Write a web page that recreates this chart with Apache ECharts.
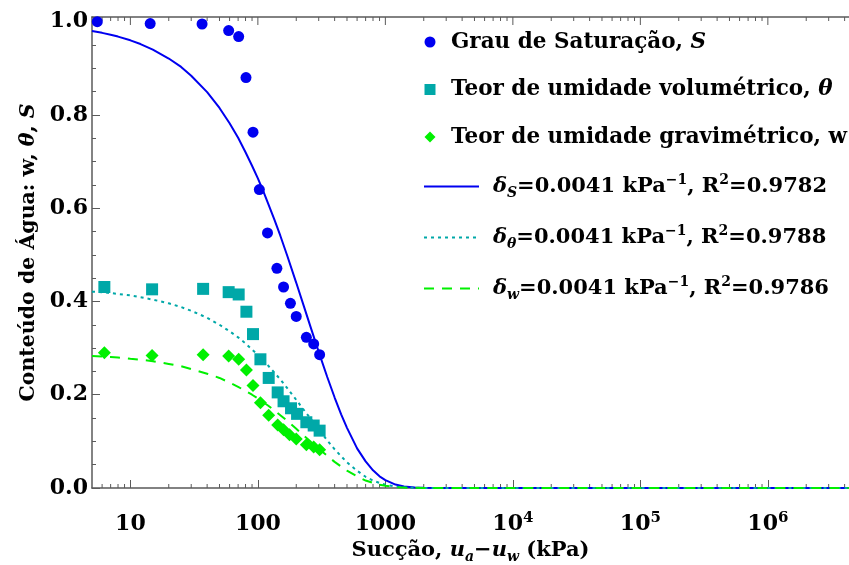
<!DOCTYPE html>
<html>
<head>
<meta charset="utf-8">
<script src="https://cdn.jsdelivr.net/npm/echarts@6/dist/echarts.min.js"></script>
<style>
  html, body { margin: 0; padding: 0; background: #fff; }
  #chart { width: 849px; height: 565px; }
</style>
</head>
<body>
<div id="chart"></div>
<script>
// Measured data: suction (kPa) and water-content indicators
const suctionS = [5.5, 14.3, 36.5, 59, 70.7, 80.7, 91.6, 102.7, 119, 141, 159, 180, 200, 240, 274, 305];
const saturationS = [1.0, 0.996, 0.995, 0.981, 0.968, 0.880, 0.763, 0.640, 0.547, 0.471, 0.431, 0.396, 0.368, 0.323, 0.309, 0.286];

const suctionTheta = [6.25, 14.8, 37.2, 59, 70.7, 81.3, 91.6, 104.7, 121.6, 143, 159, 182, 203, 240, 274, 305];
const volumetricTheta = [0.431, 0.426, 0.427, 0.420, 0.415, 0.378, 0.330, 0.276, 0.236, 0.205, 0.186, 0.171, 0.159, 0.141, 0.134, 0.123];

const suctionW = [6.25, 14.8, 37.2, 59, 70.7, 81.3, 91.6, 104.7, 121.6, 143, 159, 177, 200, 240, 274, 305];
const gravimetricW = [0.290, 0.284, 0.286, 0.283, 0.276, 0.253, 0.220, 0.183, 0.156, 0.135, 0.125, 0.114, 0.105, 0.093, 0.088, 0.082];

// Fitted curves, sampled along the suction axis
const fitSuction = [5, 6, 7, 8, 10, 12, 15, 20, 25, 30, 40, 50, 60, 70, 80, 90, 100, 110, 120, 135, 150, 170, 200, 230, 260, 300, 350, 400, 450, 500, 600, 700, 800, 900, 1000, 1200, 1400, 1700, 2000, 3000, 100000, 4330000];
const fitS = [0.980, 0.976, 0.972, 0.968, 0.960, 0.952, 0.940, 0.921, 0.903, 0.884, 0.849, 0.815, 0.782, 0.751, 0.720, 0.691, 0.664, 0.637, 0.611, 0.575, 0.541, 0.498, 0.440, 0.389, 0.344, 0.292, 0.238, 0.194, 0.158, 0.129, 0.085, 0.057, 0.038, 0.025, 0.017, 0.0073, 0.0032, 0.0009, 0.0003, 0, 0, 0];
const fitTheta = [0.421, 0.420, 0.418, 0.416, 0.413, 0.409, 0.404, 0.396, 0.388, 0.380, 0.365, 0.350, 0.336, 0.323, 0.310, 0.297, 0.286, 0.274, 0.263, 0.247, 0.233, 0.214, 0.189, 0.167, 0.148, 0.126, 0.102, 0.083, 0.068, 0.055, 0.037, 0.024, 0.016, 0.011, 0.007, 0.003, 0.0014, 0.0004, 0.0001, 0, 0, 0];
const fitW = [0.283, 0.282, 0.281, 0.280, 0.277, 0.275, 0.272, 0.266, 0.261, 0.255, 0.245, 0.236, 0.226, 0.217, 0.208, 0.200, 0.192, 0.184, 0.177, 0.166, 0.156, 0.144, 0.127, 0.112, 0.099, 0.084, 0.069, 0.056, 0.046, 0.037, 0.025, 0.016, 0.011, 0.007, 0.005, 0.002, 0.0009, 0.0003, 0.0001, 0, 0, 0];

// Axis ranges and tick values
const xMin = 5, xMax = 4330000;
const yMin = 0, yMax = 1.01, yStep = 0.2;
const minorMultipliers = [2, 3, 4, 5, 6, 7, 8, 9];
const decades = [1, 10, 100, 1000, 10000, 100000, 1000000];

const pairs = (xs, ys) => xs.map((x, i) => [x, ys[i]]);

const minorTickValues = [];
decades.forEach(d => minorMultipliers.forEach(m => {
  const v = d * m;
  if (v > xMin && v < xMax) minorTickValues.push(v);
}));
const topTickValues = decades.filter(v => v > xMin && v < xMax);

const FONT = 'DejaVu Serif';
const AXIS_COLOR = '#5a5a5a';
const BLUE = '#0000f0';
const TEAL = '#00a8a8';
const GREEN = '#00f000';

const baseText = { fontFamily: FONT, fontWeight: 'bold', color: '#000' };
function makeRich(size, spacer) {
  const small = Math.round(size * 0.68);
  return {
    t: Object.assign({}, baseText, { fontSize: size, lineHeight: size + 6 }),
    i: Object.assign({}, baseText, { fontSize: size, lineHeight: size + 6, fontStyle: 'italic' }),
    sub: Object.assign({}, baseText, { fontSize: small, lineHeight: small, fontStyle: 'italic', verticalAlign: 'bottom' }),
    sup: Object.assign({}, baseText, { fontSize: small, lineHeight: small, verticalAlign: 'top' }),
    g: { width: spacer || 0 }
  };
}

const NAME_S = 'Grau de Saturação, S';
const NAME_T = 'Teor de umidade volumétrico, θ';
const NAME_W = 'Teor de umidade gravimétrico, w';
const FIT_S = 'fitS';
const FIT_T = 'fitTheta';
const FIT_W = 'fitW';

const legendLabels = {};
legendLabels[NAME_S] = '{g| }{t|Grau de Saturação, }{i|S}';
legendLabels[NAME_T] = '{g| }{t|Teor de umidade volumétrico, }{i|θ}';
legendLabels[NAME_W] = '{g| }{t|Teor de umidade gravimétrico, w}';
legendLabels[FIT_S] = '{g| }{i|δ}{sub|S}{t|=0.0041 kPa}{sup|−1}{t|, R}{sup|2}{t|=0.9782}';
legendLabels[FIT_T] = '{g| }{i|δ}{sub|θ}{t|=0.0041 kPa}{sup|−1}{t|, R}{sup|2}{t|=0.9788}';
legendLabels[FIT_W] = '{g| }{i|δ}{sub|w}{t|=0.0041 kPa}{sup|−1}{t|, R}{sup|2}{t|=0.9786}';

const chart = echarts.init(document.getElementById('chart'), null, { renderer: 'canvas' });

const tickRich = {
  n: { fontFamily: FONT, fontWeight: 'bold', fontSize: 22, color: '#000', lineHeight: 26 },
  e: { fontFamily: FONT, fontWeight: 'bold', fontSize: 15, color: '#000', lineHeight: 15, verticalAlign: 'top' }
};

chart.setOption({
  animation: false,
  backgroundColor: '#fff',
  grid: { left: 92, right: 0, top: 17, bottom: 77, containLabel: false, outerBoundsMode: 'none' },
  legend: [
    {
      orient: 'vertical', left: 424.5, top: 31, padding: 0,
      itemWidth: 11, itemHeight: 11, itemGap: 25.5,
      data: [NAME_S, NAME_T, NAME_W],
      formatter: name => legendLabels[name],
      textStyle: { rich: makeRich(21.5, 10.5) },
      selectedMode: false
    },
    {
      orient: 'vertical', left: 423, top: 173, padding: 0,
      itemWidth: 55, itemHeight: 12, itemGap: 24,
      data: [FIT_S, FIT_T, FIT_W],
      formatter: name => legendLabels[name],
      itemStyle: { opacity: 0 },
      textStyle: { rich: makeRich(21, 9) },
      selectedMode: false
    }
  ],
  xAxis: [
    {
      type: 'log', logBase: 10, min: xMin, max: xMax,
      position: 'bottom',
      axisLine: { show: true, lineStyle: { color: AXIS_COLOR, width: 1.5 } },
      axisTick: { show: true, inside: true, length: 8, lineStyle: { color: AXIS_COLOR, width: 1 } },
      splitLine: { show: false },
      axisLabel: {
        margin: 23,
        showMinLabel: false, showMaxLabel: false,
        formatter: v => {
          const p = Math.round(Math.log10(v));
          if (p < 4) return '{n|' + Math.round(Math.pow(10, p)) + '}';
          return '{n|10}{e|' + p + '}';
        },
        rich: tickRich
      },
      name: '{t|Sucção, }{i|u}{sub|a}{t|−}{i|u}{sub|w}{t| (kPa)}',
      nameLocation: 'middle', nameGap: 48,
      nameTextStyle: { rich: makeRich(21) }
    },
    {
      type: 'log', logBase: 10, min: xMin, max: xMax,
      position: 'top',
      axisLine: { show: true, lineStyle: { color: AXIS_COLOR, width: 1.5 } },
      axisTick: { show: false },
      axisLabel: { show: false },
      splitLine: { show: false }
    }
  ],
  yAxis: {
    type: 'value', min: yMin, max: yMax, interval: yStep,
    axisLine: { show: true, lineStyle: { color: AXIS_COLOR, width: 1.5 } },
    axisTick: { show: true, inside: true, length: 8, lineStyle: { color: AXIS_COLOR, width: 1 } },
    minorTick: { show: true, splitNumber: 4, length: 4, lineStyle: { color: AXIS_COLOR, width: 1 } },
    splitLine: { show: false },
    axisLabel: {
      margin: 4, showMaxLabel: false,
      fontFamily: FONT, fontWeight: 'bold', fontSize: 22, color: '#000',
      formatter: v => v.toFixed(1)
    },
    name: '{t|Conteúdo de Água: w, }{i|θ}{t|, }{i|S}',
    nameLocation: 'middle', nameGap: 50,
    nameTextStyle: { rich: makeRich(20.5) }
  },
  series: [
    {
      // minor ticks on the log axis (bottom and top frame) plus major ticks on top
      type: 'custom', name: 'ticks', silent: true, z: 1,
      coordinateSystem: 'cartesian2d',
      data: minorTickValues.map(v => [v, 0, 4]).concat(topTickValues.map(v => [v, 0, 8])),
      renderItem: (params, api) => {
        const v = api.value(0);
        const len = api.value(2);
        const bottom = api.coord([v, yMin]);
        const top = api.coord([v, yMax]);
        const style = { stroke: AXIS_COLOR, lineWidth: 1 };
        const children = [
          { type: 'line', shape: { x1: top[0], y1: top[1], x2: top[0], y2: top[1] + len }, style }
        ];
        if (len < 8) {
          children.push({ type: 'line', shape: { x1: bottom[0], y1: bottom[1], x2: bottom[0], y2: bottom[1] - len }, style });
        }
        return { type: 'group', children };
      },
      clip: false
    },
    {
      name: FIT_S, type: 'line', data: pairs(fitSuction, fitS),
      symbol: 'none', smooth: false,
      lineStyle: { color: BLUE, width: 2 }, itemStyle: { color: BLUE }, z: 3
    },
    {
      name: FIT_T, type: 'line', data: pairs(fitSuction, fitTheta),
      symbol: 'none', smooth: false,
      lineStyle: { color: TEAL, width: 2, type: [3, 4] }, itemStyle: { color: TEAL }, z: 3
    },
    {
      name: FIT_W, type: 'line', data: pairs(fitSuction, fitW),
      symbol: 'none', smooth: false,
      lineStyle: { color: GREEN, width: 2, type: [10, 8] }, itemStyle: { color: GREEN }, z: 3
    },
    {
      name: NAME_S, type: 'scatter', data: pairs(suctionS, saturationS),
      symbol: 'circle', symbolSize: 11, itemStyle: { color: BLUE, opacity: 1 }, z: 4
    },
    {
      name: NAME_T, type: 'scatter', data: pairs(suctionTheta, volumetricTheta),
      symbol: 'rect', symbolSize: 12, itemStyle: { color: TEAL, opacity: 1 }, z: 4
    },
    {
      name: NAME_W, type: 'scatter', data: pairs(suctionW, gravimetricW),
      symbol: 'diamond', symbolSize: [13, 13], itemStyle: { color: GREEN, opacity: 1 }, z: 4
    }
  ]
});
</script>
</body>
</html>
